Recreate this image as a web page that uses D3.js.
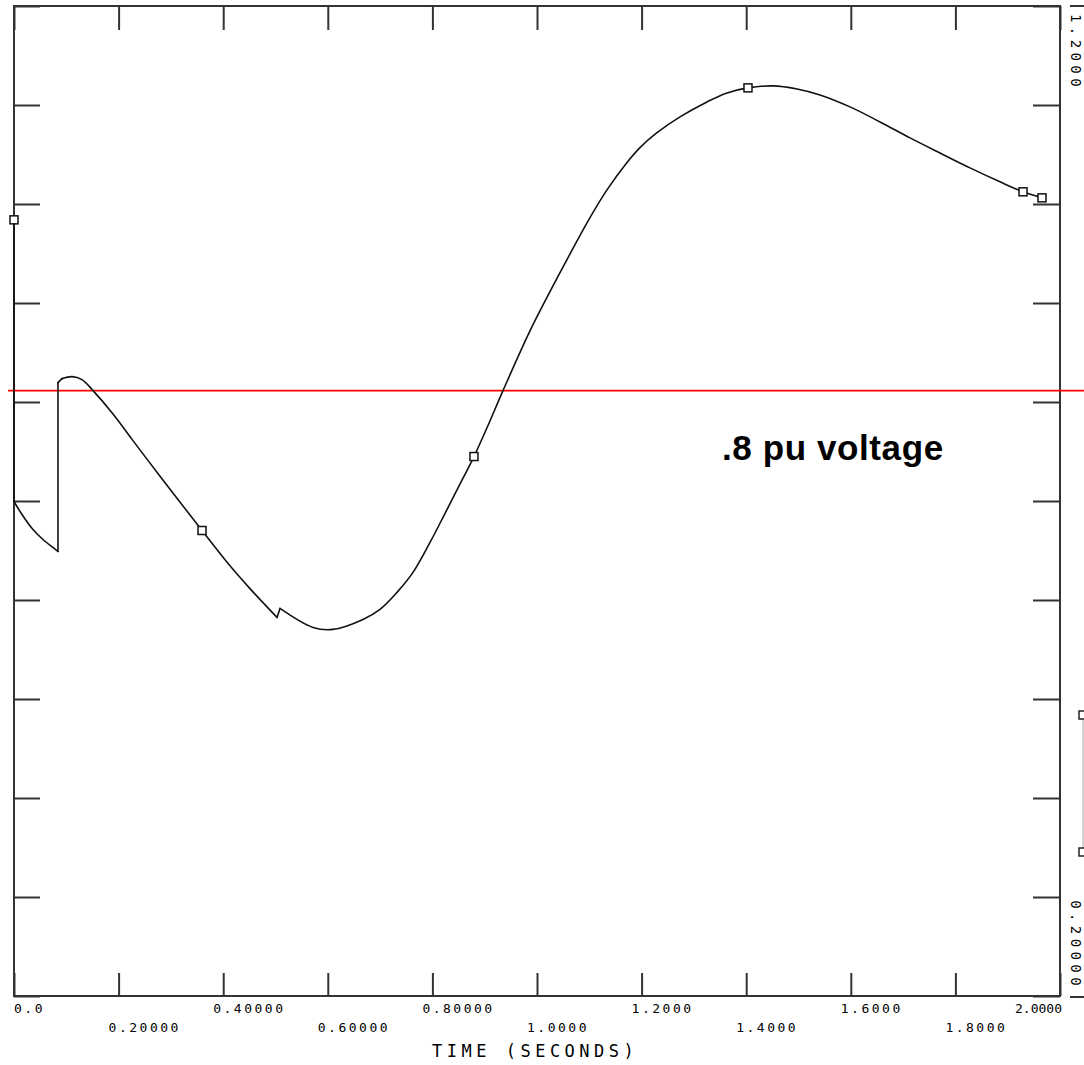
<!DOCTYPE html>
<html>
<head>
<meta charset="utf-8">
<script src="https://cdn.jsdelivr.net/npm/d3@7"></script>
<style>
  body { margin: 0; background: #fff; }
  svg { display: block; }
  .tick line { stroke: #333; stroke-width: 2; }
  .lbl { font-family: "DejaVu Sans Mono", monospace; fill: #000; }
</style>
</head>
<body>
<div id="graf"></div>
<script>
// bus voltage (pu) vs time (s)
const tiempos = [0.000, 0.000, 0.0153, 0.0363, 0.0554, 0.0841, 0.0841, 0.0918, 0.1109, 0.1300,
  0.1511, 0.1893, 0.2275, 0.2792, 0.3231, 0.3595, 0.4130, 0.4512, 0.5029, 0.5086,
  0.5717, 0.6099, 0.6673, 0.6998, 0.7323, 0.7629, 0.7954, 0.8279, 0.8585, 0.8795,
  0.9044, 0.9350, 0.9866, 1.0440, 1.1013, 1.1338, 1.1721,
  1.1969, 1.2294, 1.2734, 1.3250, 1.3633, 1.4034, 1.4512, 1.4971, 1.5411, 1.5985,
  1.6558, 1.7132, 1.7706, 1.8279, 1.8853, 1.9293, 1.9656];
const voltajes = [0.984, 0.6995, 0.6864, 0.6712, 0.6611, 0.6490, 0.8196, 0.8236, 0.8256, 0.8226,
  0.8115, 0.7880, 0.7610, 0.7250, 0.6950, 0.6702, 0.6345, 0.6115, 0.5824, 0.5915,
  0.5723, 0.5703, 0.5804, 0.5905, 0.6077, 0.6279, 0.6581, 0.6914, 0.7230, 0.7449,
  0.7740, 0.8115, 0.8719, 0.9306, 0.9862, 1.0143, 1.0420,
  1.0570, 1.0720, 1.0880, 1.1031, 1.1122, 1.1173, 1.1193, 1.1162, 1.1102, 1.0981,
  1.0829, 1.0668, 1.0515, 1.0365, 1.0224, 1.0123, 1.0062];

// square markers along the trace
const marcaT = [0.000, 0.3595, 0.8795, 1.4034, 1.9293, 1.9656];
const marcaV = [0.984, 0.6702, 0.7449, 1.1173, 1.0123, 1.0062];

const xTicks = [0, 0.2, 0.4, 0.6, 0.8, 1.0, 1.2, 1.4, 1.6, 1.8, 2.0];
const xLabels = ["0.0", "0.20000", "0.40000", "0.60000", "0.80000", "1.0000",
  "1.2000", "1.4000", "1.6000", "1.8000", "2.0000"];
const yTicks = [0.2, 0.3, 0.4, 0.5, 0.6, 0.7, 0.8, 0.9, 1.0, 1.1, 1.2];
const yLabelTop = "1.2000";
const yLabelBottom = "0.20000";

const refVoltaje = 0.8115;
const refTexto = ".8 pu voltage";
const xTitulo = "TIME (SECONDS)";

const ancho_total = 1084, alto_total = 1065;
const margins = { top: 6, left: 14, right: 24, bottom: 68 };
const izq = margins.left, der = ancho_total - margins.right;
const arriba = margins.top, abajo = alto_total - margins.bottom;

const svg = d3.select("#graf").append("svg")
  .attr("width", ancho_total).attr("height", alto_total);

const x = d3.scaleLinear().domain([0, 2]).range([izq, der]);
const y = d3.scaleLinear().domain([0.2, 1.2]).range([abajo - 1, arriba]);

// inward ticks on all four sides
const ejes = [
  [d3.axisBottom(x).tickValues(xTicks).tickSize(-23), `translate(0,${y(0.2)})`],
  [d3.axisTop(x).tickValues(xTicks).tickSize(-24), `translate(0,${y(1.2)})`],
  [d3.axisLeft(y).tickValues(yTicks).tickSize(-26), `translate(${izq},0)`],
  [d3.axisRight(y).tickValues(yTicks).tickSize(-27), `translate(${der},0)`],
];
ejes.forEach(([eje, tr]) => {
  const g = svg.append("g").attr("transform", tr).call(eje.tickFormat(""));
  g.select(".domain").remove();
});

svg.append("rect")
  .attr("x", izq).attr("y", y(1.2))
  .attr("width", der - izq).attr("height", y(0.2) - y(1.2))
  .attr("fill", "none").attr("stroke", "#333").attr("stroke-width", 2);

// bits of the neighbouring panel cut off at the right edge
svg.append("line").attr("x1", der + 10).attr("x2", ancho_total)
  .attr("y1", y(1.2)).attr("y2", y(1.2)).attr("stroke", "#333").attr("stroke-width", 2);
svg.append("line").attr("x1", der + 10).attr("x2", ancho_total)
  .attr("y1", y(0.2) + 1).attr("y2", y(0.2) + 1).attr("stroke", "#333").attr("stroke-width", 2);
svg.append("line").attr("x1", 1083).attr("x2", 1083)
  .attr("y1", 715).attr("y2", 852).attr("stroke", "#aaa").attr("stroke-width", 1);
[715, 852].forEach(yy => {
  svg.append("rect").attr("x", 1079).attr("y", yy - 4).attr("width", 8).attr("height", 8)
    .attr("fill", "#fff").attr("stroke", "#222").attr("stroke-width", 1.5);
});

// x tick labels, two staggered rows
xTicks.forEach((t, i) => {
  const ultimo = i === xTicks.length - 1;
  svg.append("text").attr("class", "lbl")
    .attr("x", i === 0 ? x(t) : ultimo ? x(t) + 2 : x(t) - 10)
    .attr("y", i % 2 === 0 ? 1013 : 1032)
    .attr("text-anchor", ultimo ? "end" : "start")
    .attr("font-size", 13)
    .attr("letter-spacing", ultimo ? 0 : 2.5)
    .text(xLabels[i]);
});

svg.append("text").attr("class", "lbl")
  .attr("x", 432).attr("y", 1057)
  .attr("font-size", 17).attr("letter-spacing", 4.5)
  .text(xTitulo);

// rotated y range labels at the right
svg.append("text").attr("class", "lbl")
  .attr("transform", `translate(1071,${y(1.2) + 8}) rotate(90)`)
  .attr("font-size", 14).attr("letter-spacing", 4.4)
  .text(yLabelTop);
svg.append("text").attr("class", "lbl")
  .attr("transform", `translate(1071,${y(0.2) - 6}) rotate(90)`)
  .attr("text-anchor", "end")
  .attr("font-size", 14).attr("letter-spacing", 4.4)
  .text(yLabelBottom);

// red reference line
svg.append("line")
  .attr("x1", 8).attr("x2", ancho_total)
  .attr("y1", y(refVoltaje)).attr("y2", y(refVoltaje))
  .attr("stroke", "#ff0000").attr("stroke-width", 1.6);

svg.append("text")
  .attr("x", 722).attr("y", 460)
  .attr("font-family", "Liberation Sans, Arial, sans-serif")
  .attr("font-weight", "bold").attr("font-size", 35)
  .attr("letter-spacing", 0.6)
  .attr("fill", "#000")
  .text(refTexto);

// the trace: smooth pieces, with the switching jumps drawn straight
const datos = tiempos.map((t, i) => ({ t, v: voltajes[i] }));
const tramos = [], saltos = [];
let actual = [datos[0]];
for (let i = 1; i < datos.length; i++) {
  if (datos[i].t - datos[i - 1].t < 0.01) {
    tramos.push(actual);
    saltos.push([datos[i - 1], datos[i]]);
    actual = [datos[i]];
  } else {
    actual.push(datos[i]);
  }
}
tramos.push(actual);

const suave = d3.line().x(d => x(d.t)).y(d => y(d.v))
  .curve(d3.curveCatmullRom.alpha(0.5));
const recta = d3.line().x(d => x(d.t)).y(d => y(d.v));

const traza = svg.append("g")
  .attr("fill", "none").attr("stroke", "#111").attr("stroke-width", 1.6)
  .attr("stroke-linejoin", "round").attr("stroke-linecap", "round");
traza.selectAll(".tramo").data(tramos.filter(s => s.length > 1))
  .enter().append("path").attr("class", "tramo").attr("d", suave);
traza.selectAll(".salto").data(saltos)
  .enter().append("path").attr("class", "salto").attr("d", recta);

svg.selectAll(".marca").data(marcaT.map((t, i) => ({ t, v: marcaV[i] })))
  .enter().append("rect").attr("class", "marca")
  .attr("x", d => x(d.t) - 4).attr("y", d => y(d.v) - 4)
  .attr("width", 8).attr("height", 8)
  .attr("fill", "#fff").attr("stroke", "#111").attr("stroke-width", 1.5);
</script>
</body>
</html>
